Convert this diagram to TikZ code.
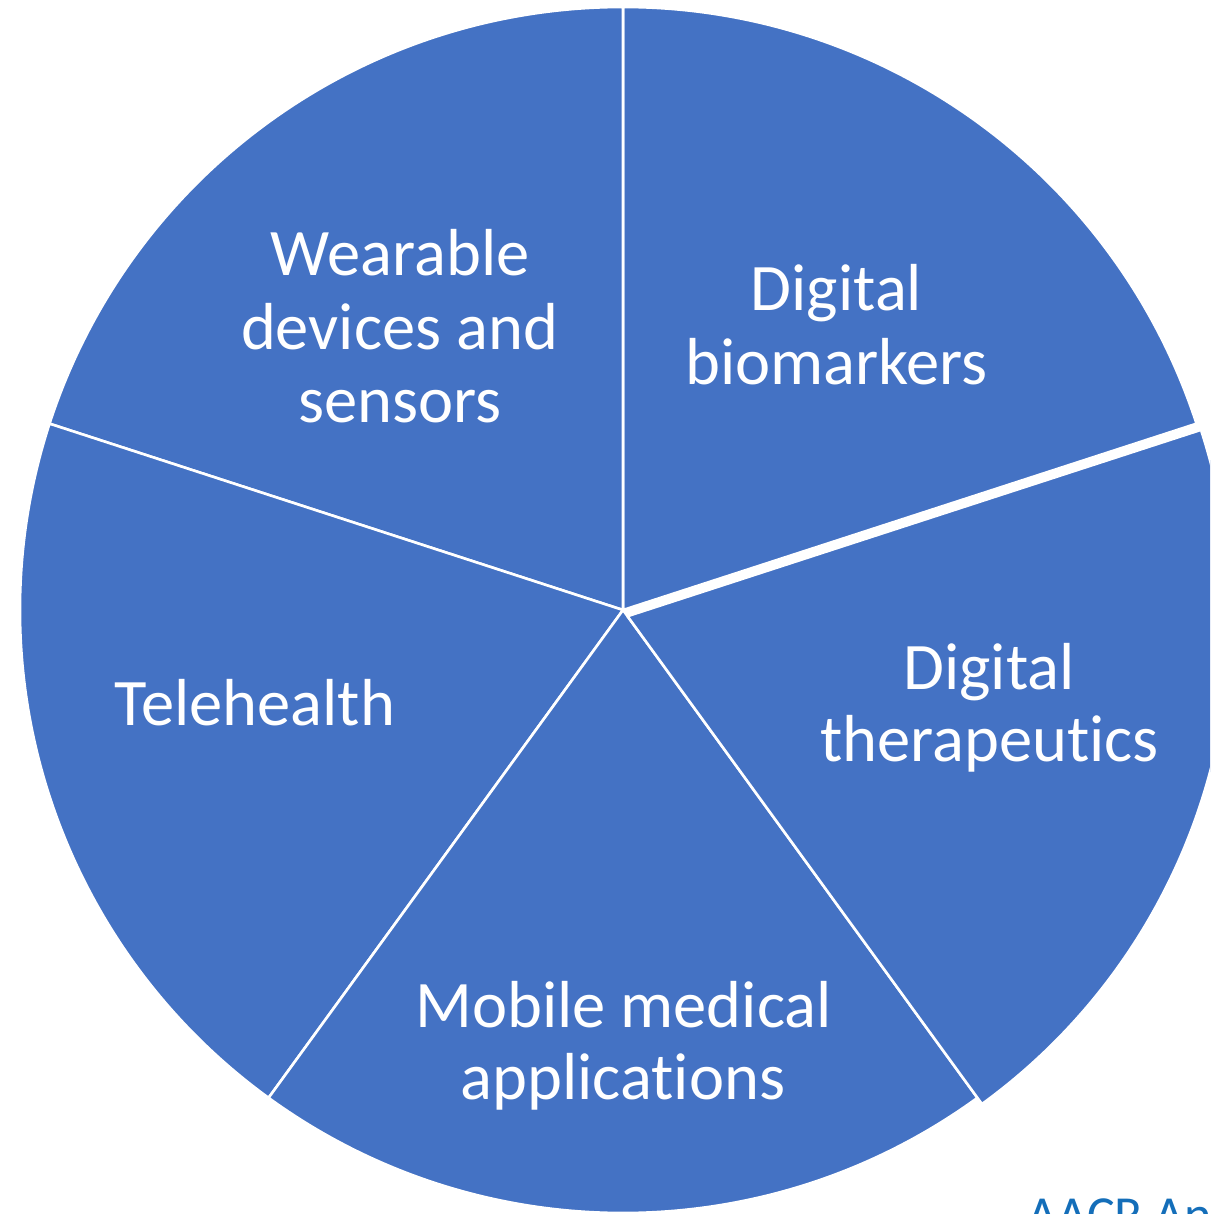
\documentclass[tikz,border=0pt]{standalone}
\usepackage{fontspec}
\setmainfont[Ligatures=NoCommon]{Carlito}
\definecolor{sliceblue}{RGB}{68,114,196}
\definecolor{srcblue}{RGB}{20,110,185}
\begin{document}
\begin{tikzpicture}[x=1pt,y=1pt,
  slice/.style={fill=sliceblue,draw=white,line width=2.6pt,line join=round},
  lbl/.style={text=white,font=\fontsize{66.5}{72.5}\selectfont,anchor=base,inner sep=0pt}]
\useasboundingbox (0,0) rectangle (1210,-1214);
\clip (0,0) rectangle (1210,-1214);
\coordinate (C) at (623,-610);
\coordinate (Ct) at (627.5,-616.2);
% slices
\path[slice] (C) -- ++(18:603) arc[start angle=18,end angle=90,radius=603] -- cycle;
\path[slice] (C) -- ++(90:603) arc[start angle=90,end angle=162,radius=603] -- cycle;
\path[slice] (C) -- ++(162:603) arc[start angle=162,end angle=234,radius=603] -- cycle;
\path[slice] (C) -- ++(234:603) arc[start angle=234,end angle=306,radius=603] -- cycle;
\path[slice] (Ct) -- ++(-54:603) arc[start angle=-54,end angle=18,radius=603] -- cycle;
% labels
\node[lbl] (w1) at (400,-276) {Wearable};
\node[lbl] (w2) at (399.5,-349) {devices and};
\node[lbl] (w3) at (400,-422) {sensors};
\node[lbl] (b1) at (836.5,-310) {Digital};
\node[lbl] (b2) at (836.5,-384) {biomarkers};
\node[lbl] (t1) at (255,-725) {Telehealth};
\node[lbl] (d1) at (989,-689) {Digital};
\node[lbl] (d2) at (989.5,-761) {therapeutics};
\node[lbl] (m1) at (623.5,-1027) {Mobile medical};
\node[lbl] (m2) at (623,-1099) {applications};
\node[text=srcblue,font=\fontsize{52}{60}\selectfont,anchor=base west,inner sep=0pt] (src) at (1027,-1232) {AACR An};
\end{tikzpicture}
\end{document}
